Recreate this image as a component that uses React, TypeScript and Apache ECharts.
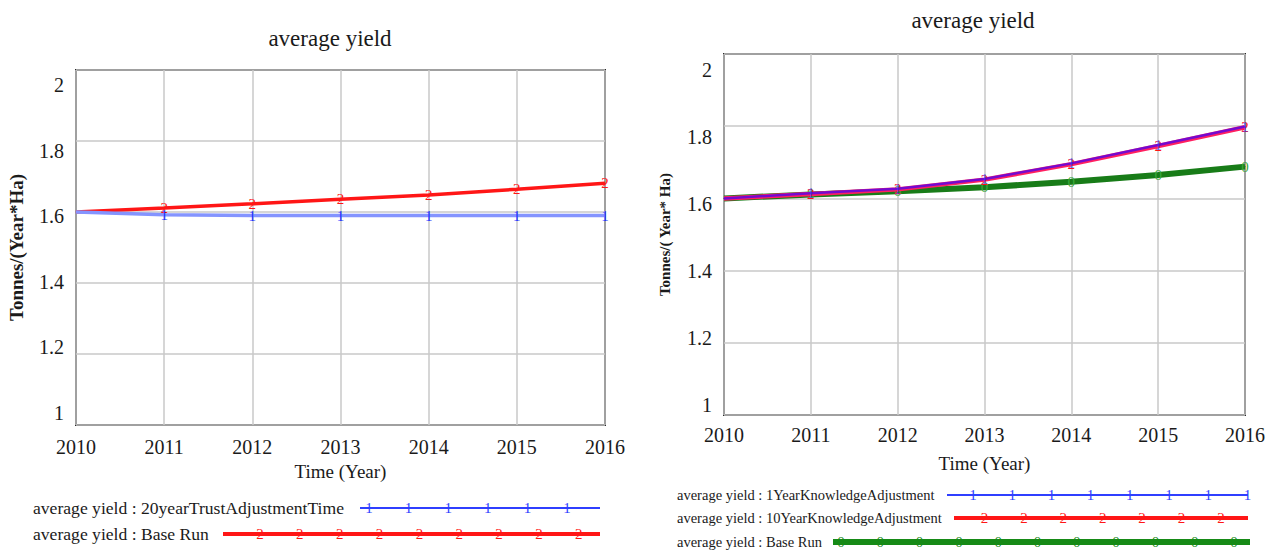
import React, { useEffect, useRef } from "react";
import * as echarts from "echarts";

const years = [2010, 2011, 2012, 2013, 2014, 2015, 2016];
const yTickLabels = [1, 1.2, 1.4, 1.6, 1.8, 2];

// Left panel
const left20yearTrust = [1.6, 1.592, 1.59, 1.59, 1.59, 1.59, 1.59];
const leftBaseRun = [1.6, 1.611, 1.623, 1.636, 1.648, 1.664, 1.681];

// Right panel
const right1YearKnowledge = [1.6, 1.614, 1.627, 1.654, 1.697, 1.748, 1.799];
const right10YearKnowledge = [1.6, 1.612, 1.625, 1.652, 1.695, 1.745, 1.797];
const rightBaseRun = [1.6, 1.611, 1.62, 1.631, 1.646, 1.665, 1.688];

const legendLeft = ["average yield : 20yearTrustAdjustmentTime", "average yield : Base Run"];
const legendRight = [
  "average yield : 1YearKnowledgeAdjustment",
  "average yield : 10YearKnowledgeAdjustment",
  "average yield : Base Run",
];

const FONT = "Liberation Serif";
const BLUE = "#2f3fff";
const RED = "#ff1616";
const GREEN = "#168a16";

const pairs = (vals: number[]) => years.map((y, i) => [y, vals[i]]);

function lineSeries(name: string, vals: number[], color: string, width: number, mark: string, xi: number, yi: number, opacity = 1, z = 2, markColor?: string) {
  return {
    name,
    type: "line",
    xAxisIndex: xi,
    yAxisIndex: yi,
    data: pairs(vals),
    symbol: "circle",
    symbolSize: 1,
    z,
    itemStyle: { color, opacity },
    lineStyle: { color, width, opacity },
    label: {
      show: true,
      position: "inside",
      formatter: (p: any) => (p.dataIndex === 0 ? "" : mark),
      color: markColor || color,
      fontSize: 15,
      fontFamily: FONT,
    },
    emphasis: { disabled: true },
  };
}

function legendItem(text: string, tx: number, y: number, fs: number, x1: number, x2: number, color: string, lw: number, mark: string, m0: number, step: number, count: number) {
  const els: any[] = [
    {
      type: "text",
      x: tx,
      y,
      style: { text, fontSize: fs, fontFamily: FONT, fill: "#1a1a1a", textVerticalAlign: "middle", textAlign: "left" },
    },
    {
      type: "line",
      shape: { x1, y1: y, x2, y2: y },
      style: { stroke: color, lineWidth: lw },
    },
  ];
  for (let i = 0; i < count; i++) {
    els.push({
      type: "text",
      x: m0 + i * step,
      y,
      style: { text: mark, fontSize: 15, fontFamily: FONT, fill: color, textAlign: "center", textVerticalAlign: "middle" },
    });
  }
  return els;
}

function xAxisCfg(gridIndex: number, margin: number, nameGap: number) {
  return {
    type: "value",
    gridIndex,
    min: 2010,
    max: 2016,
    interval: 1,
    name: "Time (Year)",
    nameLocation: "middle",
    nameGap,
    nameTextStyle: { fontSize: 19, fontFamily: FONT, color: "#1a1a1a" },
    axisLine: { show: false },
    axisTick: { show: false },
    axisLabel: { fontSize: 20, fontFamily: FONT, color: "#1a1a1a", margin, formatter: (v: number) => String(v) },
    splitLine: { show: true, lineStyle: { color: "#c8c8c8", width: 1.5 } },
  };
}

function yMainCfg(gridIndex: number, nameGap: number, nameSize: number, name: string) {
  return {
    type: "value",
    gridIndex,
    position: "left",
    min: 1,
    max: 2,
    interval: 0.2,
    name,
    nameLocation: "middle",
    nameGap,
    nameRotate: 90,
    nameTextStyle: { fontSize: nameSize, fontFamily: FONT, fontWeight: "bold", color: "#1a1a1a" },
    axisLine: { show: false },
    axisTick: { show: false },
    axisLabel: { show: false },
    splitLine: { show: true, lineStyle: { color: "#c8c8c8", width: 1.5 } },
  };
}

function yLabelCfg(gridIndex: number, min: number, max: number, margin: number) {
  return {
    type: "value",
    gridIndex,
    position: "left",
    min,
    max,
    axisLine: { show: false },
    axisTick: { show: false },
    splitLine: { show: false },
    axisLabel: {
      customValues: yTickLabels,
      fontSize: 20,
      fontFamily: FONT,
      color: "#1a1a1a",
      margin,
      formatter: (v: number) => (Math.abs(v - Math.round(v)) < 1e-6 ? String(Math.round(v)) : v.toFixed(1)),
    },
  };
}

export default function App() {
  const ref = useRef<HTMLDivElement>(null);
  useEffect(() => {
    if (!ref.current) return;
    const chart = echarts.init(ref.current, null, { renderer: "svg" });
    const graphics: any[] = [
      ...legendItem(legendLeft[0], 33, 508, 17.6, 360, 600, BLUE, 2, "1", 369, 39.6, 6),
      ...legendItem(legendLeft[1], 33, 534, 17.6, 223, 600, RED, 4, "2", 260, 39.85, 9),
      ...legendItem(legendRight[0], 677, 495, 14.5, 947, 1248, BLUE, 2, "1", 973, 39.2, 8),
      ...legendItem(legendRight[1], 677, 518, 14.5, 954, 1248, RED, 4, "2", 984.5, 39.4, 7),
      ...legendItem(legendRight[2], 677, 542, 14.5, 833, 1250, GREEN, 6, "0", 841, 39.3, 11),
    ];
    chart.setOption({
      animation: false,
      textStyle: { fontFamily: FONT },
      title: [
        { text: "average yield", left: 325, top: 22, textAlign: "center", textStyle: { fontSize: 23, fontWeight: "normal", fontFamily: FONT, color: "#1a1a1a" } },
        { text: "average yield", left: 968, top: 4, textAlign: "center", textStyle: { fontSize: 23, fontWeight: "normal", fontFamily: FONT, color: "#1a1a1a" } },
      ],
      grid: [
        { left: 76, top: 70, width: 529, height: 355, show: true, borderColor: "#2a2a2a", borderWidth: 2, backgroundColor: "#fff" },
        { left: 724, top: 54, width: 521, height: 361, show: true, borderColor: "#2a2a2a", borderWidth: 2, backgroundColor: "#fff" },
      ],
      xAxis: [xAxisCfg(0, 12, 36), xAxisCfg(1, 10, 39)],
      yAxis: [
        yMainCfg(0, 50, 19, "Tonnes/(Year*Ha)"),
        yLabelCfg(0, 1 - 12 / 328, 2 + 15 / 328, 12),
        yMainCfg(1, 52, 15, "Tonnes/( Year* Ha)"),
        yLabelCfg(1, 1 - 10 / 335, 2 + 16 / 335, 12),
      ],
      series: [
        lineSeries("average yield : 20yearTrustAdjustmentTime", left20yearTrust, "#8494ff", 3.5, "1", 0, 0, 1, 3, "#2030ff"),
        lineSeries("average yield : Base Run", leftBaseRun, RED, 3.5, "2", 0, 0, 1, 2),
        lineSeries("average yield : Base Run", rightBaseRun, "#187c18", 6, "0", 1, 2, 1, 2, "#3aa83a"),
        lineSeries("average yield : 10YearKnowledgeAdjustment", right10YearKnowledge, "#ff2060", 4.5, "2", 1, 2, 1, 3, RED),
        lineSeries("average yield : 1YearKnowledgeAdjustment", right1YearKnowledge, "#3a00ff", 2.5, "1", 1, 2, 0.7, 4, BLUE),
      ],
      graphic: graphics,
    });
    return () => chart.dispose();
  }, []);
  return <div ref={ref} style={{ position: "absolute", left: 0, top: 0, width: 1274, height: 552, background: "#fff" }} />;
}
